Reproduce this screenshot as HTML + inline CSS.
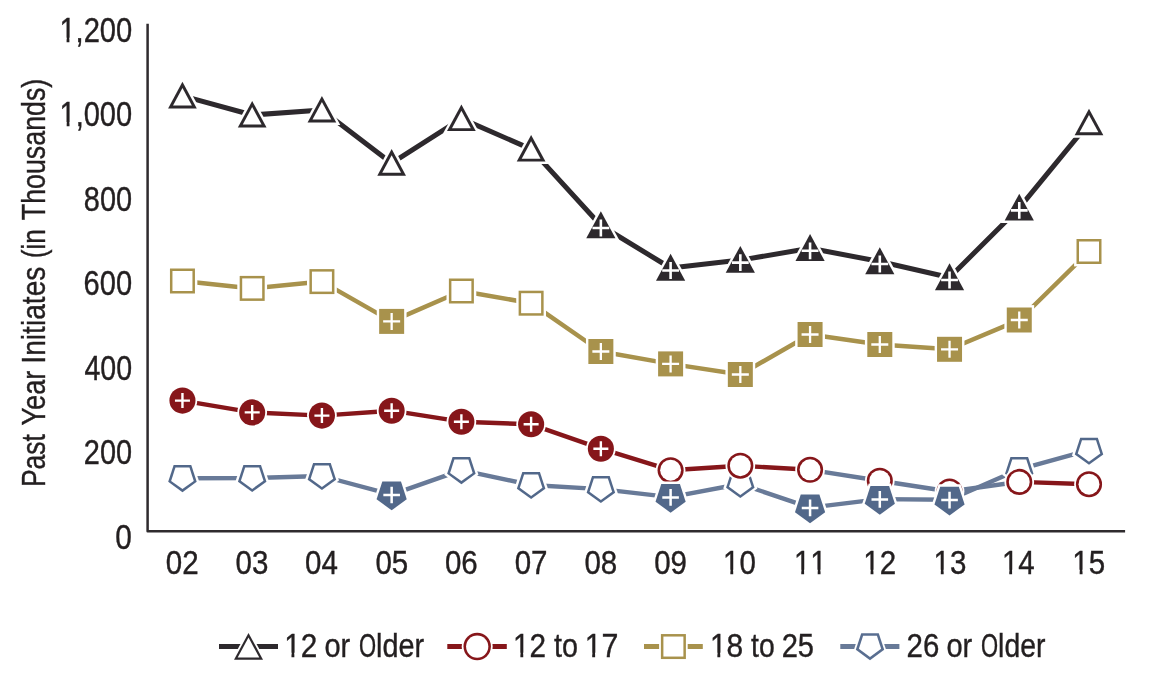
<!DOCTYPE html>
<html><head><meta charset="utf-8"><title>Past Year Initiates</title>
<style>html,body{margin:0;padding:0;background:#fff}svg{display:block}svg{font-family:"Liberation Sans",sans-serif;}text{fill:#231f20;stroke:#231f20;stroke-width:0.40px}</style></head>
<body><svg width="1150" height="675" viewBox="0 0 1150 675">
<rect width="1150" height="675" fill="#fff"/>
<path d="M147.6 23.8V531.35H1125.1" fill="none" stroke="#2f2b2e" stroke-width="2.5" stroke-linejoin="round"/>
<polyline points="182.45,95.9 252.19,115 321.92,110 391.65,163.2 461.39,118.6 531.12,149.1 600.86,225.5 670.6,268 740.33,260.1 810.07,248.3 879.8,261.5 949.54,277.5 1019.27,207.9 1089,122.8" fill="none" stroke="#2d292d" stroke-width="5.0" stroke-linejoin="round"/>
<polyline points="182.45,281 252.19,288.4 321.92,281.6 391.65,321.4 461.39,291 531.12,303.2 600.86,351.5 670.6,363.9 740.33,374.5 810.07,334.5 879.8,344.5 949.54,349.3 1019.27,320 1089,251.5" fill="none" stroke="#a8924c" stroke-width="4.5" stroke-linejoin="round"/>
<polyline points="182.45,478.2 252.19,478 321.92,476 391.65,494.7 461.39,470.2 531.12,485 600.86,489.1 670.6,497.1 740.33,484 810.07,507.6 879.8,499.1 949.54,499.8 1019.27,469.4 1089,450.15" fill="none" stroke="#687a98" stroke-width="4.4" stroke-linejoin="round"/>
<polyline points="182.45,400.6 252.19,412.4 321.92,415.6 391.65,410.7 461.39,421.7 531.12,424.3 600.86,448.7 670.6,470.2 740.33,465.7 810.07,469.8" fill="none" stroke="#86161a" stroke-width="4.4" stroke-linejoin="round"/>
<polyline points="810.07,469.8 879.8,480.75 949.54,491.5 1019.27,481.9" fill="none" stroke="#687a98" stroke-width="4.4" stroke-linejoin="round"/>
<polyline points="1019.27,481.9 1089,484.2" fill="none" stroke="#86161a" stroke-width="4.4" stroke-linejoin="round"/>
<polygon points="182.45,76.75 200.82,110.8 164.08,110.8" fill="#fff"/><polygon points="182.45,81.8 196.8,108.4 168.1,108.4" fill="#2d292d"/><polygon points="182.45,88.01 191.86,105.45 173.04,105.45" fill="#fff"/>
<polygon points="252.19,95.85 270.56,129.9 233.81,129.9" fill="#fff"/><polygon points="252.19,100.9 266.54,127.5 237.84,127.5" fill="#2d292d"/><polygon points="252.19,107.11 261.59,124.55 242.78,124.55" fill="#fff"/>
<polygon points="321.92,90.85 340.29,124.9 303.55,124.9" fill="#fff"/><polygon points="321.92,95.9 336.27,122.5 307.57,122.5" fill="#2d292d"/><polygon points="321.92,102.11 331.33,119.55 312.51,119.55" fill="#fff"/>
<polygon points="391.65,144.05 410.03,178.1 373.28,178.1" fill="#fff"/><polygon points="391.65,149.1 406,175.7 377.3,175.7" fill="#2d292d"/><polygon points="391.65,155.31 401.06,172.75 382.25,172.75" fill="#fff"/>
<polygon points="461.39,99.45 479.76,133.5 443.02,133.5" fill="#fff"/><polygon points="461.39,104.5 475.74,131.1 447.04,131.1" fill="#2d292d"/><polygon points="461.39,110.71 470.8,128.15 451.98,128.15" fill="#fff"/>
<polygon points="531.12,129.95 549.5,164 512.75,164" fill="#fff"/><polygon points="531.12,135 545.48,161.6 516.77,161.6" fill="#2d292d"/><polygon points="531.12,141.21 540.53,158.65 521.72,158.65" fill="#fff"/>
<polygon points="1089,103.65 1107.38,137.7 1070.63,137.7" fill="#fff"/><polygon points="1089,108.7 1103.35,135.3 1074.65,135.3" fill="#2d292d"/><polygon points="1089,114.91 1098.41,132.35 1079.6,132.35" fill="#fff"/>
<polygon points="167.55,266.1 197.35,266.1 197.35,295.9 167.55,295.9" fill="#fff"/><polygon points="169.95,268.5 194.95,268.5 194.95,293.5 169.95,293.5" fill="#a8924c"/><polygon points="172.45,271 192.45,271 192.45,291 172.45,291" fill="#fff"/>
<polygon points="237.28,273.5 267.08,273.5 267.08,303.3 237.28,303.3" fill="#fff"/><polygon points="239.69,275.9 264.69,275.9 264.69,300.9 239.69,300.9" fill="#a8924c"/><polygon points="242.19,278.4 262.19,278.4 262.19,298.4 242.19,298.4" fill="#fff"/>
<polygon points="307.02,266.7 336.82,266.7 336.82,296.5 307.02,296.5" fill="#fff"/><polygon points="309.42,269.1 334.42,269.1 334.42,294.1 309.42,294.1" fill="#a8924c"/><polygon points="311.92,271.6 331.92,271.6 331.92,291.6 311.92,291.6" fill="#fff"/>
<polygon points="446.49,276.1 476.29,276.1 476.29,305.9 446.49,305.9" fill="#fff"/><polygon points="448.89,278.5 473.89,278.5 473.89,303.5 448.89,303.5" fill="#a8924c"/><polygon points="451.39,281 471.39,281 471.39,301 451.39,301" fill="#fff"/>
<polygon points="516.23,288.3 546.02,288.3 546.02,318.1 516.23,318.1" fill="#fff"/><polygon points="518.62,290.7 543.62,290.7 543.62,315.7 518.62,315.7" fill="#a8924c"/><polygon points="521.12,293.2 541.12,293.2 541.12,313.2 521.12,313.2" fill="#fff"/>
<polygon points="1074.1,236.6 1103.9,236.6 1103.9,266.4 1074.1,266.4" fill="#fff"/><polygon points="1076.5,239 1101.5,239 1101.5,264 1076.5,264" fill="#a8924c"/><polygon points="1079,241.5 1099,241.5 1099,261.5 1079,261.5" fill="#fff"/>
<polygon points="182.45,495.17 199.52,482.77 193,462.7 171.9,462.7 165.38,482.77" fill="#fff"/><polygon points="182.45,492.2 196.7,481.85 191.26,465.1 173.64,465.1 168.2,481.85" fill="#52688a"/><polygon points="182.45,489.11 193.76,480.89 189.44,467.6 175.46,467.6 171.14,480.89" fill="#fff"/>
<polygon points="252.19,494.97 269.25,482.57 262.73,462.5 241.64,462.5 235.12,482.57" fill="#fff"/><polygon points="252.19,492 266.43,481.65 260.99,464.9 243.38,464.9 237.94,481.65" fill="#52688a"/><polygon points="252.19,488.91 263.49,480.69 259.17,467.4 245.2,467.4 240.88,480.69" fill="#fff"/>
<polygon points="321.92,492.97 338.99,480.57 332.47,460.5 311.37,460.5 304.85,480.57" fill="#fff"/><polygon points="321.92,490 336.17,479.65 330.73,462.9 313.11,462.9 307.67,479.65" fill="#52688a"/><polygon points="321.92,486.91 333.23,478.69 328.91,465.4 314.93,465.4 310.61,478.69" fill="#fff"/>
<polygon points="461.39,487.17 478.46,474.77 471.94,454.7 450.84,454.7 444.32,474.77" fill="#fff"/><polygon points="461.39,484.2 475.64,473.85 470.2,457.1 452.58,457.1 447.14,473.85" fill="#52688a"/><polygon points="461.39,481.11 472.7,472.89 468.38,459.6 454.4,459.6 450.08,472.89" fill="#fff"/>
<polygon points="531.12,501.97 548.19,489.57 541.67,469.5 520.58,469.5 514.06,489.57" fill="#fff"/><polygon points="531.12,499 545.37,488.65 539.93,471.9 522.32,471.9 516.88,488.65" fill="#52688a"/><polygon points="531.13,495.91 542.43,487.69 538.11,474.4 524.14,474.4 519.82,487.69" fill="#fff"/>
<polygon points="600.86,506.07 617.93,493.67 611.41,473.6 590.31,473.6 583.79,493.67" fill="#fff"/><polygon points="600.86,503.1 615.11,492.75 609.67,476 592.05,476 586.61,492.75" fill="#52688a"/><polygon points="600.86,500.01 612.17,491.79 607.85,478.5 593.87,478.5 589.55,491.79" fill="#fff"/>
<polygon points="740.33,500.97 757.4,488.57 750.88,468.5 729.78,468.5 723.26,488.57" fill="#fff"/><polygon points="740.33,498 754.58,487.65 749.14,470.9 731.52,470.9 726.08,487.65" fill="#52688a"/><polygon points="740.33,494.91 751.64,486.69 747.32,473.4 733.34,473.4 729.02,486.69" fill="#fff"/>
<polygon points="1019.27,487.07 1036.34,474.67 1029.82,454.6 1008.72,454.6 1002.2,474.67" fill="#fff"/><polygon points="1019.27,484.1 1033.52,473.75 1028.08,457 1010.46,457 1005.02,473.75" fill="#52688a"/><polygon points="1019.27,481.01 1030.58,472.79 1026.26,459.5 1012.28,459.5 1007.96,472.79" fill="#fff"/>
<polygon points="1089,467.82 1106.07,455.42 1099.55,435.35 1078.46,435.35 1071.94,455.42" fill="#fff"/><polygon points="1089,464.85 1103.25,454.5 1097.81,437.75 1080.2,437.75 1074.76,454.5" fill="#52688a"/><polygon points="1089,461.76 1100.31,453.54 1095.99,440.25 1082.02,440.25 1077.7,453.54" fill="#fff"/>
<circle cx="670.6" cy="470.2" r="14.85" fill="#fff"/><circle cx="670.6" cy="470.2" r="13.05" fill="#86161a"/><circle cx="670.6" cy="470.2" r="10.45" fill="#fff"/>
<circle cx="740.33" cy="465.7" r="14.85" fill="#fff"/><circle cx="740.33" cy="465.7" r="13.05" fill="#86161a"/><circle cx="740.33" cy="465.7" r="10.45" fill="#fff"/>
<circle cx="810.07" cy="469.8" r="14.85" fill="#fff"/><circle cx="810.07" cy="469.8" r="13.05" fill="#86161a"/><circle cx="810.07" cy="469.8" r="10.45" fill="#fff"/>
<circle cx="879.8" cy="480.75" r="14.85" fill="#fff"/><circle cx="879.8" cy="480.75" r="13.05" fill="#86161a"/><circle cx="879.8" cy="480.75" r="10.45" fill="#fff"/>
<circle cx="949.54" cy="491.5" r="14.85" fill="#fff"/><circle cx="949.54" cy="491.5" r="13.05" fill="#86161a"/><circle cx="949.54" cy="491.5" r="10.45" fill="#fff"/>
<circle cx="1019.27" cy="481.9" r="14.85" fill="#fff"/><circle cx="1019.27" cy="481.9" r="13.05" fill="#86161a"/><circle cx="1019.27" cy="481.9" r="10.45" fill="#fff"/>
<circle cx="1089" cy="484.2" r="14.85" fill="#fff"/><circle cx="1089" cy="484.2" r="13.05" fill="#86161a"/><circle cx="1089" cy="484.2" r="10.45" fill="#fff"/>
<polygon points="600.86,206.27 619.49,240.6 582.23,240.6" fill="#fff"/><polygon points="600.86,211.3 615.46,238.2 586.26,238.2" fill="#2d292d"/><path d="M592.46 228H609.26M600.86 219.6V236.4" stroke="#fff" stroke-width="2.6" fill="none"/>
<polygon points="670.6,248.77 689.23,283.1 651.96,283.1" fill="#fff"/><polygon points="670.6,253.8 685.2,280.7 656,280.7" fill="#2d292d"/><path d="M662.2 270.5H679M670.6 262.1V278.9" stroke="#fff" stroke-width="2.6" fill="none"/>
<polygon points="740.33,240.87 758.96,275.2 721.7,275.2" fill="#fff"/><polygon points="740.33,245.9 754.93,272.8 725.73,272.8" fill="#2d292d"/><path d="M731.93 262.6H748.73M740.33 254.2V271" stroke="#fff" stroke-width="2.6" fill="none"/>
<polygon points="810.07,229.07 828.7,263.4 791.43,263.4" fill="#fff"/><polygon points="810.07,234.1 824.67,261 795.47,261" fill="#2d292d"/><path d="M801.67 250.8H818.47M810.07 242.4V259.2" stroke="#fff" stroke-width="2.6" fill="none"/>
<polygon points="879.8,242.27 898.43,276.6 861.17,276.6" fill="#fff"/><polygon points="879.8,247.3 894.4,274.2 865.2,274.2" fill="#2d292d"/><path d="M871.4 264H888.2M879.8 255.6V272.4" stroke="#fff" stroke-width="2.6" fill="none"/>
<polygon points="949.54,258.27 968.17,292.6 930.9,292.6" fill="#fff"/><polygon points="949.54,263.3 964.14,290.2 934.94,290.2" fill="#2d292d"/><path d="M941.14 280H957.94M949.54 271.6V288.4" stroke="#fff" stroke-width="2.6" fill="none"/>
<polygon points="1019.27,188.67 1037.9,223 1000.64,223" fill="#fff"/><polygon points="1019.27,193.7 1033.87,220.6 1004.67,220.6" fill="#2d292d"/><path d="M1010.87 210.4H1027.67M1019.27 202V218.8" stroke="#fff" stroke-width="2.6" fill="none"/>
<polygon points="376.75,306.5 406.55,306.5 406.55,336.3 376.75,336.3" fill="#fff"/><polygon points="379.15,308.9 404.15,308.9 404.15,333.9 379.15,333.9" fill="#a8924c"/><path d="M383.15 321.4H400.15M391.65 312.9V329.9" stroke="#fff" stroke-width="2.3" fill="none"/>
<polygon points="585.96,336.6 615.76,336.6 615.76,366.4 585.96,366.4" fill="#fff"/><polygon points="588.36,339 613.36,339 613.36,364 588.36,364" fill="#a8924c"/><path d="M592.36 351.5H609.36M600.86 343V360" stroke="#fff" stroke-width="2.3" fill="none"/>
<polygon points="655.7,349 685.5,349 685.5,378.8 655.7,378.8" fill="#fff"/><polygon points="658.1,351.4 683.1,351.4 683.1,376.4 658.1,376.4" fill="#a8924c"/><path d="M662.1 363.9H679.1M670.6 355.4V372.4" stroke="#fff" stroke-width="2.3" fill="none"/>
<polygon points="725.43,359.6 755.23,359.6 755.23,389.4 725.43,389.4" fill="#fff"/><polygon points="727.83,362 752.83,362 752.83,387 727.83,387" fill="#a8924c"/><path d="M731.83 374.5H748.83M740.33 366V383" stroke="#fff" stroke-width="2.3" fill="none"/>
<polygon points="795.17,319.6 824.97,319.6 824.97,349.4 795.17,349.4" fill="#fff"/><polygon points="797.57,322 822.57,322 822.57,347 797.57,347" fill="#a8924c"/><path d="M801.57 334.5H818.57M810.07 326V343" stroke="#fff" stroke-width="2.3" fill="none"/>
<polygon points="864.9,329.6 894.7,329.6 894.7,359.4 864.9,359.4" fill="#fff"/><polygon points="867.3,332 892.3,332 892.3,357 867.3,357" fill="#a8924c"/><path d="M871.3 344.5H888.3M879.8 336V353" stroke="#fff" stroke-width="2.3" fill="none"/>
<polygon points="934.64,334.4 964.44,334.4 964.44,364.2 934.64,364.2" fill="#fff"/><polygon points="937.04,336.8 962.04,336.8 962.04,361.8 937.04,361.8" fill="#a8924c"/><path d="M941.04 349.3H958.04M949.54 340.8V357.8" stroke="#fff" stroke-width="2.3" fill="none"/>
<polygon points="1004.37,305.1 1034.17,305.1 1034.17,334.9 1004.37,334.9" fill="#fff"/><polygon points="1006.77,307.5 1031.77,307.5 1031.77,332.5 1006.77,332.5" fill="#a8924c"/><path d="M1010.77 320H1027.77M1019.27 311.5V328.5" stroke="#fff" stroke-width="2.3" fill="none"/>
<polygon points="391.66,513.27 409.56,500.25 402.72,479.2 380.59,479.2 373.75,500.25" fill="#fff"/><polygon points="391.65,510.3 406.74,499.34 400.98,481.6 382.33,481.6 376.57,499.34" fill="#52688a"/><path d="M383.35 495H399.95M391.65 486.7V503.3" stroke="#fff" stroke-width="2.5" fill="none"/>
<polygon points="670.6,515.67 688.5,502.65 681.66,481.6 659.53,481.6 652.69,502.65" fill="#fff"/><polygon points="670.6,512.7 685.68,501.74 679.92,484 661.27,484 655.51,501.74" fill="#52688a"/><path d="M662.3 497.4H678.89M670.6 489.1V505.7" stroke="#fff" stroke-width="2.5" fill="none"/>
<polygon points="810.07,526.17 827.97,513.15 821.13,492.1 799,492.1 792.16,513.15" fill="#fff"/><polygon points="810.07,523.2 825.15,512.24 819.39,494.5 800.74,494.5 794.98,512.24" fill="#52688a"/><path d="M801.77 507.9H818.37M810.07 499.6V516.2" stroke="#fff" stroke-width="2.5" fill="none"/>
<polygon points="879.8,517.67 897.71,504.65 890.87,483.6 868.73,483.6 861.89,504.65" fill="#fff"/><polygon points="879.8,514.7 894.89,503.74 889.13,486 870.47,486 864.71,503.74" fill="#52688a"/><path d="M871.5 499.4H888.1M879.8 491.1V507.7" stroke="#fff" stroke-width="2.5" fill="none"/>
<polygon points="949.54,518.37 967.44,505.35 960.6,484.3 938.47,484.3 931.63,505.35" fill="#fff"/><polygon points="949.54,515.4 964.62,504.44 958.86,486.7 940.21,486.7 934.45,504.44" fill="#52688a"/><path d="M941.24 500.1H957.84M949.54 491.8V508.4" stroke="#fff" stroke-width="2.5" fill="none"/>
<circle cx="182.45" cy="400.6" r="14.85" fill="#fff"/><circle cx="182.45" cy="400.6" r="13.05" fill="#86161a"/><path d="M174.95 400.6H189.95M182.45 393.1V408.1" stroke="#fff" stroke-width="2.4" fill="none"/>
<circle cx="252.19" cy="412.4" r="14.85" fill="#fff"/><circle cx="252.19" cy="412.4" r="13.05" fill="#86161a"/><path d="M244.69 412.4H259.69M252.19 404.9V419.9" stroke="#fff" stroke-width="2.4" fill="none"/>
<circle cx="321.92" cy="415.6" r="14.85" fill="#fff"/><circle cx="321.92" cy="415.6" r="13.05" fill="#86161a"/><path d="M314.42 415.6H329.42M321.92 408.1V423.1" stroke="#fff" stroke-width="2.4" fill="none"/>
<circle cx="391.65" cy="410.7" r="14.85" fill="#fff"/><circle cx="391.65" cy="410.7" r="13.05" fill="#86161a"/><path d="M384.15 410.7H399.15M391.65 403.2V418.2" stroke="#fff" stroke-width="2.4" fill="none"/>
<circle cx="461.39" cy="421.7" r="14.85" fill="#fff"/><circle cx="461.39" cy="421.7" r="13.05" fill="#86161a"/><path d="M453.89 421.7H468.89M461.39 414.2V429.2" stroke="#fff" stroke-width="2.4" fill="none"/>
<circle cx="531.12" cy="424.3" r="14.85" fill="#fff"/><circle cx="531.12" cy="424.3" r="13.05" fill="#86161a"/><path d="M523.62 424.3H538.62M531.12 416.8V431.8" stroke="#fff" stroke-width="2.4" fill="none"/>
<circle cx="600.86" cy="448.7" r="14.85" fill="#fff"/><circle cx="600.86" cy="448.7" r="13.05" fill="#86161a"/><path d="M593.36 448.7H608.36M600.86 441.2V456.2" stroke="#fff" stroke-width="2.4" fill="none"/>
<path d="M219.0 646.55H278.0" stroke="#2d292d" stroke-width="5.1" fill="none"/><polygon points="248.5,629.17 266.02,661.55 230.98,661.55" fill="#fff"/><polygon points="248.5,632.95 263,659.75 234,659.75" fill="#2d292d"/><polygon points="248.5,637.57 259.31,657.55 237.69,657.55" fill="#fff"/>
<path d="M447.3 646.55H506.8" stroke="#86161a" stroke-width="5.1" fill="none"/><circle cx="477.2" cy="646.55" r="15.5" fill="#fff"/><circle cx="477.2" cy="646.55" r="13.7" fill="#86161a"/><circle cx="477.2" cy="646.55" r="11.1" fill="#fff"/>
<path d="M644 646.55H702.8" stroke="#a8924c" stroke-width="5.1" fill="none"/><polygon points="659.1,632.25 687.7,632.25 687.7,660.85 659.1,660.85" fill="#fff"/><polygon points="660.9,634.05 685.9,634.05 685.9,659.05 660.9,659.05" fill="#a8924c"/><polygon points="663.4,636.55 683.4,636.55 683.4,656.55 663.4,656.55" fill="#fff"/>
<path d="M840.3 646.55H899.4" stroke="#687a98" stroke-width="5.1" fill="none"/><polygon points="870,662.37 886.31,650.52 880.08,631.35 859.92,631.35 853.69,650.52" fill="#fff"/><polygon points="870,660.15 884.19,649.84 878.77,633.15 861.23,633.15 855.81,649.84" fill="#596e90"/><polygon points="870,656.94 881.14,648.84 876.88,635.75 863.12,635.75 858.86,648.84" fill="#fff"/>
<g opacity="0.999">
<g transform="translate(59.38,41.8) scale(0.8718,1.028)"><text font-size="33.4" style="font-kerning:none">1,200</text><rect x="0.000" y="-4.008" width="8.266" height="6.346" fill="#fff"/><rect x="11.490" y="-4.008" width="6.713" height="6.346" fill="#fff"/></g>
<g transform="translate(59.49,126.3) scale(0.8699,1.028)"><text font-size="33.4" style="font-kerning:none">1,000</text><rect x="0.000" y="-4.008" width="8.266" height="6.346" fill="#fff"/><rect x="11.490" y="-4.008" width="6.713" height="6.346" fill="#fff"/></g>
<g transform="translate(83.84,210.8) scale(0.8655,1.028)"><text font-size="33.4">800</text></g>
<g transform="translate(83.55,295.3) scale(0.8709,1.028)"><text font-size="33.4">600</text></g>
<g transform="translate(84.43,379.8) scale(0.8548,1.028)"><text font-size="33.4">400</text></g>
<g transform="translate(83.84,464.3) scale(0.8655,1.028)"><text font-size="33.4">200</text></g>
<g transform="translate(115.31,548.8) scale(0.8921,1.028)"><text font-size="33.4">0</text></g>
<g transform="translate(165.74,573.8) scale(0.8850,1.012)"><text font-size="33.4">02</text></g>
<g transform="translate(235.53,573.8) scale(0.8850,1.012)"><text font-size="33.4">03</text></g>
<g transform="translate(305.07,573.8) scale(0.8850,1.012)"><text font-size="33.4">04</text></g>
<g transform="translate(375.4,573.8) scale(0.8850,1.012)"><text font-size="33.4">05</text></g>
<g transform="translate(444.93,573.8) scale(0.8850,1.012)"><text font-size="33.4">06</text></g>
<g transform="translate(514.67,573.8) scale(0.8850,1.012)"><text font-size="33.4">07</text></g>
<g transform="translate(584.4,573.8) scale(0.8850,1.012)"><text font-size="33.4">08</text></g>
<g transform="translate(654.14,573.8) scale(0.8850,1.012)"><text font-size="33.4">09</text></g>
<g transform="translate(723.04,573.8) scale(0.8850,1.012)"><text font-size="33.4" style="font-kerning:none">10</text><rect x="0.000" y="-4.008" width="8.266" height="6.346" fill="#fff"/><rect x="11.490" y="-4.008" width="6.713" height="6.346" fill="#fff"/></g>
<g transform="translate(793.93,573.8) scale(0.8850,1.012)"><text font-size="33.4" style="font-kerning:none">11</text><rect x="0.000" y="-4.008" width="8.266" height="6.346" fill="#fff"/><rect x="11.490" y="-4.008" width="6.713" height="6.346" fill="#fff"/><rect x="18.575" y="-4.008" width="8.266" height="6.346" fill="#fff"/><rect x="30.065" y="-4.008" width="6.713" height="6.346" fill="#fff"/></g>
<g transform="translate(863.26,573.8) scale(0.8850,1.012)"><text font-size="33.4" style="font-kerning:none">12</text><rect x="0.000" y="-4.008" width="8.266" height="6.346" fill="#fff"/><rect x="11.490" y="-4.008" width="6.713" height="6.346" fill="#fff"/></g>
<g transform="translate(933.49,573.8) scale(0.8850,1.012)"><text font-size="33.4" style="font-kerning:none">13</text><rect x="0.000" y="-4.008" width="8.266" height="6.346" fill="#fff"/><rect x="11.490" y="-4.008" width="6.713" height="6.346" fill="#fff"/></g>
<g transform="translate(1001.93,573.8) scale(0.8850,1.012)"><text font-size="33.4" style="font-kerning:none">14</text><rect x="0.000" y="-4.008" width="8.266" height="6.346" fill="#fff"/><rect x="11.490" y="-4.008" width="6.713" height="6.346" fill="#fff"/></g>
<g transform="translate(1072.36,573.8) scale(0.8850,1.012)"><text font-size="33.4" style="font-kerning:none">15</text><rect x="0.000" y="-4.008" width="8.266" height="6.346" fill="#fff"/><rect x="11.490" y="-4.008" width="6.713" height="6.346" fill="#fff"/></g>
<g transform="translate(284.13,656.75) scale(0.8890,1.012)"><text font-size="33.4" style="font-kerning:none">12</text><rect x="0.000" y="-4.008" width="8.266" height="6.346" fill="#fff"/><rect x="11.490" y="-4.008" width="6.713" height="6.346" fill="#fff"/></g>
<g transform="translate(324.49,656.75) scale(0.8679,1.012)"><text font-size="33.4">or</text></g>
<g transform="translate(358.92,656.75) scale(0.6587,1.012)"><text font-size="33.4">O</text></g>
<g transform="translate(376.07,656.75) scale(0.8626,0.995)"><text font-size="33.4">lder</text></g>
<g transform="translate(513.03,656.75) scale(0.8890,1.012)"><text font-size="33.4" style="font-kerning:none">12</text><rect x="0.000" y="-4.008" width="8.266" height="6.346" fill="#fff"/><rect x="11.490" y="-4.008" width="6.713" height="6.346" fill="#fff"/></g>
<g transform="translate(554.01,656.75) scale(0.8603,1.012)"><text font-size="33.4">to</text></g>
<g transform="translate(584.66,656.75) scale(0.9104,1.012)"><text font-size="33.4" style="font-kerning:none">17</text><rect x="0.000" y="-4.008" width="8.266" height="6.346" fill="#fff"/><rect x="11.490" y="-4.008" width="6.713" height="6.346" fill="#fff"/></g>
<g transform="translate(709.95,656.75) scale(0.8967,1.012)"><text font-size="33.4" style="font-kerning:none">18</text><rect x="0.000" y="-4.008" width="8.266" height="6.346" fill="#fff"/><rect x="11.490" y="-4.008" width="6.713" height="6.346" fill="#fff"/></g>
<g transform="translate(751.02,656.75) scale(0.8489,1.012)"><text font-size="33.4">to</text></g>
<g transform="translate(781.63,656.75) scale(0.8720,1.012)"><text font-size="33.4">25</text></g>
<g transform="translate(906.62,656.75) scale(0.8808,1.012)"><text font-size="33.4">26</text></g>
<g transform="translate(946.44,656.75) scale(0.8697,1.012)"><text font-size="33.4">or</text></g>
<g transform="translate(980.92,656.75) scale(0.6587,1.012)"><text font-size="33.4">O</text></g>
<g transform="translate(998.1,656.75) scale(0.8496,0.995)"><text font-size="33.4">lder</text></g>
<g transform="translate(45,487.12) rotate(-90) scale(0.7937,0.985)"><text font-size="33.4">Past</text></g>
<g transform="translate(45,425.54) rotate(-90) scale(0.8139,0.985)"><text font-size="33.4">Year</text></g>
<g transform="translate(45,363.64) rotate(-90) scale(0.8434,0.985)"><text font-size="33.4">Initiates</text></g>
<g transform="translate(45,258.28) rotate(-90) scale(0.7863,0.985)"><text font-size="33.4">(in</text></g>
<g transform="translate(45,220.14) rotate(-90) scale(0.8015,0.985)"><text font-size="33.4">Thousands)</text></g>
</g>
</svg></body></html>
